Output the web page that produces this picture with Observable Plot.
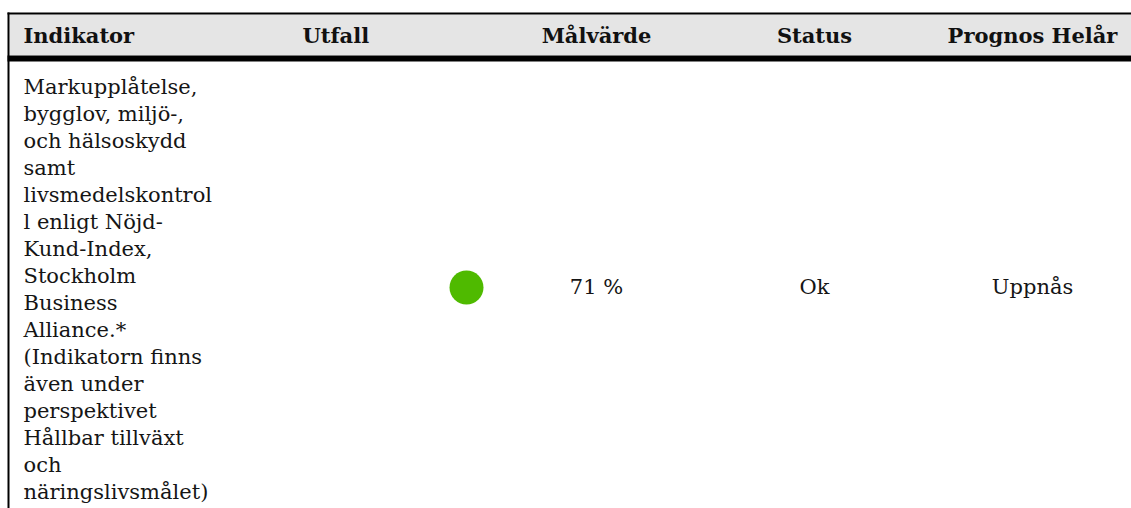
<!DOCTYPE html>
<html>
<head>
<meta charset="utf-8">
<script src="https://cdn.jsdelivr.net/npm/d3@7"></script>
<script src="https://cdn.jsdelivr.net/npm/@observablehq/plot@0.6"></script>
<style>
  html, body { margin: 0; padding: 0; background: #fff; }
  #chart svg { display: block; }
</style>
</head>
<body>
<div id="chart"></div>
<script>
// ---- data ----
const columns = ["Indikator", "Utfall", "Målvärde", "Status", "Prognos Helår"];
const indikatorText = [
  "Markupplåtelse,\nbygglov, miljö-,\noch hälsoskydd\nsamt\nlivsmedelskontrol\nl enligt Nöjd-\nKund-Index,\nStockholm\nBusiness\nAlliance.*\n(Indikatorn finns\näven under\nperspektivet\nHållbar tillväxt\noch\nnäringslivsmålet)"
];
const utfallSignal = ["grön"];
const malvarde = ["71 %"];
const statusText = ["Ok"];
const prognosText = ["Uppnås"];

const rows = indikatorText.map((t, i) => ({
  "Indikator": t,
  "Utfall": utfallSignal[i],
  "Målvärde": malvarde[i],
  "Status": statusText[i],
  "Prognos Helår": prognosText[i],
  row: "body"
}));

// ---- layout / style ----
const W = 1131, H = 508;
const FONT = "DejaVu Serif";
const FS = 21;
const ink = "#151515";
const headerBg = "#e5e5e5";
const green = "#4fba00";
const frameH = H - 12; // plot frame height (marginTop 12)

const cellMark = (col, opts) => Plot.text(rows, {
  x: () => col, y: "row", text: d => d[col],
  fontSize: FS, fill: ink, ...opts
});
const headMark = (cols, opts) => Plot.text(cols, {
  x: d => d, y: () => "header", text: d => d,
  fontSize: FS, fontWeight: "bold", fill: "#111", ...opts
});

const chart = Plot.plot({
  width: W,
  height: H,
  marginTop: 12,
  marginLeft: 7,
  marginRight: 0,
  marginBottom: 0,
  style: {fontFamily: FONT, background: "#fff"},
  x: {type: "point", domain: columns, range: [159, 1033], padding: 0, axis: null},
  y: {type: "point", domain: ["header", "body"], range: [36, 287], padding: 0, axis: null},
  marks: [
    // header background
    Plot.frame({fill: headerBg, stroke: null, insetTop: 2, insetLeft: 2, insetBottom: frameH - 43}),
    // top border
    Plot.frame({fill: "#000", stroke: null, insetBottom: frameH - 2}),
    // left border
    Plot.frame({fill: "#000", stroke: null, insetRight: (W - 7) - 2}),
    // thick header bottom border
    Plot.frame({fill: "#000", stroke: null, insetTop: 43, insetBottom: frameH - 49}),
    // header labels
    headMark(["Indikator"], {textAnchor: "start", dx: -137}),
    headMark(["Utfall"], {textAnchor: "start", dx: -76}),
    headMark(["Målvärde", "Status", "Prognos Helår"], {textAnchor: "middle"}),
    // body cells
    cellMark("Indikator", {textAnchor: "start", dx: -137, lineAnchor: "middle", lineHeight: 27 / FS}),
    Plot.dot(rows, {x: () => "Utfall", y: "row", r: 17, fill: green, stroke: null, dx: 88}),
    cellMark("Målvärde", {textAnchor: "middle"}),
    cellMark("Status", {textAnchor: "middle"}),
    cellMark("Prognos Helår", {textAnchor: "middle"})
  ]
});
document.getElementById("chart").appendChild(chart);
</script>
</body>
</html>
